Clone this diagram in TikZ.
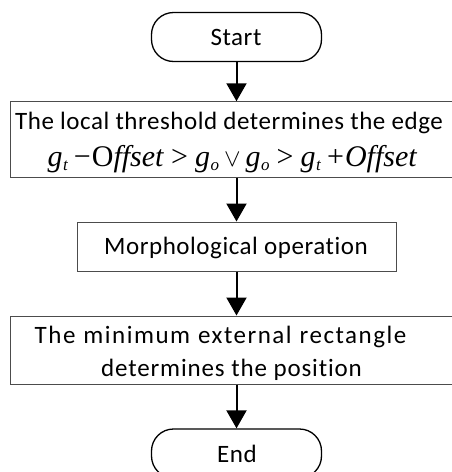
\documentclass[tikz,border=0pt]{standalone}
\usepackage{fontspec}
\setmainfont{Carlito}[Ligatures={NoCommon,NoContextual},LetterSpace=2.2]
\newfontfamily\tms{Liberation Serif}
\usetikzlibrary{arrows.meta}
\newcommand{\gs}[1]{\textit{g}\kern0.5pt\raisebox{-4.5pt}{\fontsize{17}{17}\selectfont\textit{#1}}}
\tikzset{
  term/.style={draw=black, line width=1.3pt, rounded corners=22pt, minimum width=170pt, minimum height=49pt, inner sep=0pt},
  procbox/.style={draw=black!70, line width=1pt, inner sep=0pt},
  lbl/.style={anchor=base, inner sep=0pt, font=\fontsize{25}{30}\selectfont},
  mth/.style={anchor=base, inner sep=0pt, font=\tms\fontsize{30}{34}\selectfont},
  flow/.style={line width=2pt, -{Triangle[width=20pt,length=18pt]}}
}
\begin{document}
\begin{tikzpicture}[x=1pt,y=-1pt]
\useasboundingbox (0,0) rectangle (452,472);
\clip (0,0) rectangle (452,472);
\node[term] (start) at (236.5,37) {};
\node[lbl] (startt) at (236,45) {Start};
\node[procbox, minimum width=452pt, minimum height=75.5pt] (edge) at (236.5,139.5) {};
\node[lbl] (edget) at (229,129) {The local threshold determines the edge};
\node[mth] (edgem) at (232.5,166) {\itshape \gs{t}\kern6pt\upshape{−}\kern1pt O\textit{ffset}\kern7pt\upshape{>}\kern7pt\gs{o}\kern5pt$\vee$\kern5pt\gs{o}\kern7pt\upshape{>}\kern7pt\gs{t}\kern6pt\upshape{+}\kern1pt\textit{Offset}};
\node[procbox, minimum width=319pt, minimum height=49pt] (morph) at (236.5,246.5) {};
\node[lbl] (morpht) at (236,254.5) {Morphological operation};
\node[procbox, minimum width=452pt, minimum height=68pt] (rect) at (236.5,350) {};
\node[lbl] (rectt1) at (220.5,343) {\addfontfeature{LetterSpace=6}\spaceskip=8pt The minimum external rectangle};
\node[lbl] (rectt2) at (231.5,376) {\addfontfeature{LetterSpace=3.5}determines the position};
\node[term] (end) at (236.5,453.5) {};
\node[lbl] (endt) at (237,462.5) {End};
\draw[flow] (start) -- (edge);
\draw[flow] (edge) -- (morph);
\draw[flow] (morph) -- (rect);
\draw[flow] (rect) -- (end);
\end{tikzpicture}
\end{document}
